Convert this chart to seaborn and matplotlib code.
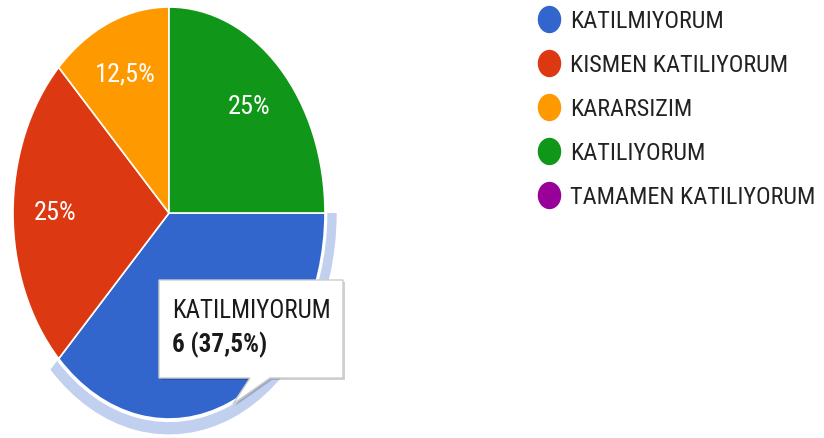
import matplotlib
matplotlib.use("Agg")
import matplotlib.pyplot as plt
import matplotlib.transforms as mtransforms
import matplotlib.path as mpath
from matplotlib.lines import Line2D
from matplotlib.patches import Wedge, Polygon
import seaborn as sns

# --------------------------------------------------------------------
# DATA
# --------------------------------------------------------------------
LABELS = ["KATILMIYORUM", "KISMEN KATILIYORUM", "KARARSIZIM", "KATILIYORUM", "TAMAMEN KATILIYORUM"]
COUNTS = [6, 4, 2, 4, 0]
COLORS = ["#3366cc", "#dc3912", "#ff9900", "#109618", "#990099"]
HIGHLIGHT = 0  # slice under the mouse (tooltip shown)

sns.set_theme(style="white")
plt.rcParams["font.family"] = ["Roboto Condensed", "DejaVu Sans"]

W, H = 824, 438
fig = plt.figure(figsize=(W / 100, H / 100), dpi=100)

# pixel coordinates measured from the top-left corner
px = mtransforms.Affine2D().scale(1 / W, -1 / H).translate(0, 1) + fig.transFigure


def tr_pct(p):
    return ("%g" % round(p, 1)).replace(".", ",") + "%"


# --------------------------------------------------------------------
# PIE (stretched: the screenshot is squeezed horizontally)
# --------------------------------------------------------------------
cx, cy, rx, ry, lim = 169, 213, 156, 206, 1.1
ax = fig.add_axes([(cx - lim * rx) / W, (H - cy - lim * ry) / H, 2 * lim * rx / W, 2 * lim * ry / H])

shown = [i for i, c in enumerate(COUNTS) if c > 0]
wedges, texts, autotexts = ax.pie(
    [COUNTS[i] for i in shown],
    colors=[COLORS[i] for i in shown],
    startangle=0,
    counterclock=False,
    autopct=tr_pct,
    pctdistance=0.73,
    wedgeprops=dict(edgecolor="white", linewidth=1.2),
    textprops=dict(color="white", fontsize=19),
)
ax.set_aspect("auto")
ax.set_xlim(-lim, lim)
ax.set_ylim(-lim, lim)
ax.axis("off")

# the label of the hovered slice sits under the tooltip
autotexts[shown.index(HIGHLIGHT)].set_visible(False)

# hover ring around the highlighted slice
hw = wedges[shown.index(HIGHLIGHT)]
ax.add_patch(Wedge((0, 0), 1.075, hw.theta1, hw.theta2, width=0.06,
                   facecolor=COLORS[HIGHLIGHT], alpha=0.3, edgecolor="none"))

# --------------------------------------------------------------------
# TOOLTIP
# --------------------------------------------------------------------
tip = [(159, 280), (343, 280), (343, 378), (270, 378), (233, 404), (250, 378), (159, 378)]
fig.patches.append(Polygon([(x + 2, y + 2) for x, y in tip], closed=True, transform=px,
                           facecolor="#000000", alpha=0.18, edgecolor="none", zorder=5))
fig.patches.append(Polygon(tip, closed=True, transform=px, facecolor="white",
                           edgecolor="#cccccc", linewidth=1, zorder=6))
total = sum(COUNTS)
fig.text(172, 311, LABELS[HIGHLIGHT], transform=px, fontsize=18, color="#1a1a1a",
         va="center", ha="left", zorder=7)
fig.text(172, 345, f"{COUNTS[HIGHLIGHT]} ({tr_pct(100 * COUNTS[HIGHLIGHT] / total)})", transform=px,
         fontsize=18, fontweight="bold", color="#1a1a1a", va="center", ha="left", zorder=7)

# --------------------------------------------------------------------
# LEGEND
# --------------------------------------------------------------------
dot = mpath.Path.unit_circle().transformed(mtransforms.Affine2D().scale(0.85, 1))
handles = [Line2D([], [], marker=dot, linestyle="", markersize=18.7, color=c) for c in COLORS]
fig.legend(handles, LABELS, loc="upper left", bbox_to_anchor=(537.2 / W, 1 - 10 / H),
           frameon=False, fontsize=17.5, handlelength=1.0, handletextpad=0.37,
           labelspacing=0.86, borderpad=0, borderaxespad=0, labelcolor="#222222")

fig.savefig("out.png", dpi=100)
plt.close(fig)
